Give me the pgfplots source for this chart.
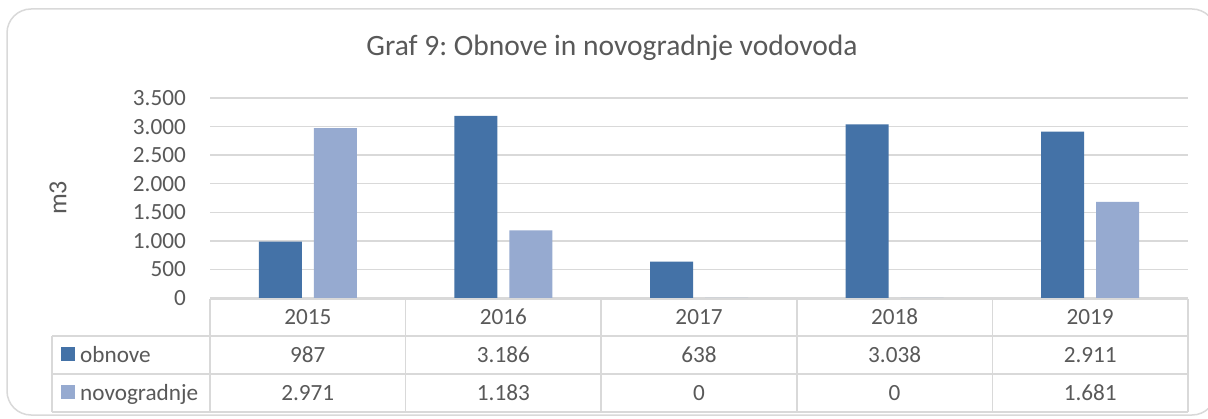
\documentclass[border=0pt]{standalone}
\usepackage{fontspec}
\setmainfont{Carlito}
\usepackage{pgfplots}
\pgfplotsset{compat=1.18}
\definecolor{obn}{RGB}{68,114,167}
\definecolor{nov}{RGB}{150,170,208}
\definecolor{gridc}{RGB}{217,217,217}
\definecolor{txt}{RGB}{89,89,89}
\frenchspacing
\begin{document}
\begin{tikzpicture}[x=1pt,y=1pt]
\useasboundingbox (0,0) rectangle (1208,418);
\fill[white] (0,0) rectangle (1208,418);
\draw[gridc, line width=1.5pt, rounded corners=24pt] (7,3) rectangle (1216,409);
\node[txt, font=\fontsize{29.5}{34}\selectfont] at (612,370) {Graf 9: Obnove in novogradnje vodovoda};
\node[txt, rotate=90, font=\fontsize{26}{30}\selectfont] at (58,220) {m3};
\begin{axis}[at={(210pt,120pt)}, anchor=south west, scale only axis,
  width=978pt, height=200pt,
  xmin=-0.5, xmax=4.5, ymin=0, ymax=3500,
  ytick={0,500,...,3500}, xtick=\empty,
  ymajorgrids, grid style={gridc, line width=1.3pt},
  axis line style={draw=none}, major tick length=0pt,
  ybar=12pt, bar width=43pt,
  yticklabel style={txt, font=\fontsize{23.2}{27}\selectfont, inner sep=0pt, xshift=-24pt},
  /pgf/number format/1000 sep={.},
  /pgf/number format/assume math mode=true,
  clip=false]
\addplot[fill=obn, draw=none] coordinates {(0,987) (1,3186) (2,638) (3,3038) (4,2911)};
\addplot[fill=nov, draw=none] coordinates {(0,2971) (1,1183) (2,0) (3,0) (4,1681)};
\end{axis}
% data table
\begin{scope}[gridc, line width=1.5pt]
\draw (210,119) -- (1188,119);
\draw (52,82) -- (1188,82);
\draw (52,44) -- (1188,44);
\draw (52,6) -- (1188,6);
\draw (52,82) -- (52,6);
\foreach \x in {210,405.6,601.2,796.8,992.4,1188} \draw (\x,119) -- (\x,6);
\end{scope}
\begin{scope}[font=\fontsize{23.2}{27}\selectfont, txt, every node/.style={anchor=base, inner sep=0pt}]
\foreach \y/\a/\b [count=\i from 0] in {2015/987/2.971, 2016/3.186/1.183, 2017/638/0, 2018/3.038/0, 2019/2.911/1.681}{
  \node at (307.8+\i*195.6,93) {\y};
  \node at (307.8+\i*195.6,55.5) {\a};
  \node at (307.8+\i*195.6,17.5) {\b};
}
\fill[obn] (61,57) rectangle (75,71);
\fill[nov] (61,19) rectangle (75,33);
\node[anchor=base west] at (80,55.5) {obnove};
\node[anchor=base west] at (80,17.5) {novogradnje};
\end{scope}
\end{tikzpicture}
\end{document}
